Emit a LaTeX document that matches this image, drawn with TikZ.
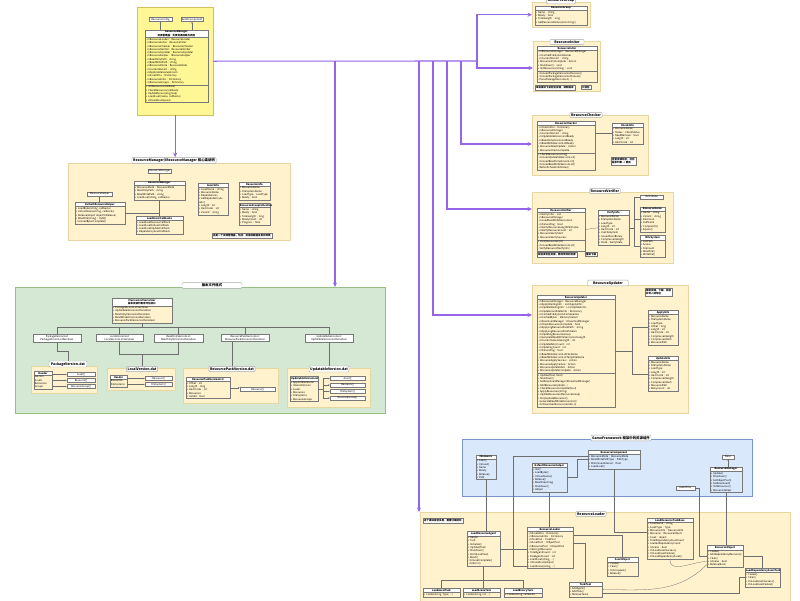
\documentclass[tikz,border=0pt]{standalone}
\usepackage{fontspec}
\setmainfont{Noto Sans CJK SC}
\usetikzlibrary{positioning, arrows.meta, shapes.multipart, calc}

\definecolor{purp}{RGB}{150,100,230}
\definecolor{mgrylw}{RGB}{255,247,150}
\definecolor{mgrline}{RGB}{214,190,90}
\definecolor{beige}{RGB}{255,242,204}
\definecolor{beigeline}{RGB}{232,214,160}
\definecolor{grn}{RGB}{213,232,212}
\definecolor{grnline}{RGB}{150,190,130}
\definecolor{blu}{RGB}{218,232,252}
\definecolor{bluline}{RGB}{120,150,200}
\definecolor{clsline}{RGB}{120,120,120}
\definecolor{linkgray}{RGB}{110,110,110}
\colorlet{bodyfill}{beige}

\newcommand{\umlfont}{\fontsize{2.5}{3.3}\selectfont}
\newcommand{\ttlfont}{\fontsize{3.4}{4.2}\selectfont\bfseries}
\newcommand{\hd}[1]{{\centering\bfseries #1\par}}

\begin{document}
\begin{tikzpicture}[x=1pt, y=-1pt,
    grp/.style={draw=#1, line width=0.4pt, anchor=north west, inner sep=0pt},
    grptitle/.style={draw=gray!70, fill=white, rounded corners=1pt, font=\ttlfont, inner sep=1.2pt},
    cls/.style={rectangle split, rectangle split parts=2, draw=clsline, line width=0.3pt,
        anchor=north west, text width=#1, inner sep=0.8pt, align=left, font=\umlfont,
        rectangle split part fill={white,bodyfill}},
    cls3/.style={cls=#1, rectangle split parts=3, rectangle split part fill={white,bodyfill,bodyfill}},
    tag/.style={draw=clsline, line width=0.3pt, fill=white, font=\umlfont, inner sep=0.8pt, align=center},
    note/.style={draw=clsline, line width=0.3pt, fill=white, font=\umlfont\bfseries, inner sep=1pt, anchor=north west, align=left},
    link/.style={draw=linkgray, line width=0.3pt},
    tip/.style={link, -{Stealth[length=1.8pt, width=1.4pt]}},
    bus/.style={draw=purp, line width=1.1pt},
    busarrow/.style={bus, -{Stealth[length=4.5pt, width=4pt]}}
]
\fill[white] (0,0) rectangle (800,600);
\useasboundingbox (0,0) rectangle (800,600);

% === ResourceManager entry ===
\begin{scope}
\colorlet{bodyfill}{mgrylw}
\node[grp=mgrline, fill=mgrylw, minimum width=76pt, minimum height=108pt] (gTop) at (137,7) {};
\node[tag, minimum width=23pt] (cfg) at (160.5,19.5) {ResourceConfig};
\node[tag, minimum width=22pt] (evt) at (192,19.5) {EventComponent};
\node[cls3=61pt] (mgr) at (145,30) {\hd{ResourceManager\\资源管理器：负责资源加载与调度}
    \nodepart{two}- mResourceLoader : ResourceLoader\\- mResourceIniter : ResourceIniter\\- mResourceChecker : ResourceChecker\\- mResourceVerifier : ResourceVerifier\\- mResourceUpdater : ResourceUpdater\\- mResourceHelper : IResourceHelper\\- mReadOnlyPath : string\\- mReadWritePath : string\\- mResourceMode : ResourceMode\\- mCurrentVariant : string\\- mApplicableGameVersion\\- mAssetInfos : Dictionary\\- mResourceInfos : Dictionary\\- mResourceGroups : Dictionary
    \nodepart{three}+ InitResources(callback)\\+ CheckResources(callback)\\+ UpdateResources(group)\\+ LoadAsset(name, callbacks)\\+ UnloadAsset(asset)};
\draw[tip] (mgr.north -| cfg) -- (cfg.south);
\draw[tip] (mgr.north -| evt) -- (evt.south);
\end{scope}

% === core classes ===
\node[grp=beigeline, fill=beige, minimum width=222pt, minimum height=77pt] (gCore) at (68,163) {};
\node[grptitle, minimum width=68pt] (tCore) at (174,160.5) {ResourceManager/IResourceManager 核心类说明};
\node[tag, minimum width=15pt] (iRes) at (159.5,171) {IResourceManager};
\node[cls=49pt] (cRes) at (134,181) {\hd{ResourceManager}
    \nodepart{two}+ ResourceMode : ResourceMode\\+ ReadOnlyPath : string\\+ ReadWritePath : string\\+ LoadAsset(string, callbacks)};
\node[tag, minimum width=25pt] (iHelp) at (99.5,194) {IResourceHelper};
\node[cls=48pt] (cHelp) at (75,202) {\hd{DefaultResourceHelper}
    \nodepart{two}+ LoadBytes(string, callbacks)\\+ UnloadScene(string, callbacks)\\+ Release(object objectToRelease)\\+ ReadFile(string) : byte[]\\- OnLoadBytesComplete()};
\node[cls=45pt] (cLoadCb) at (136,216) {\hd{LoadAssetCallbacks}
    \nodepart{two}+ LoadAssetSuccessCallback\\+ LoadAssetFailureCallback\\+ LoadAssetUpdateCallback\\+ DependencyAssetCallback};
\node[cls=28pt] (cAsset) at (198,183) {\hd{AssetInfo}
    \nodepart{two}+ AssetName : string\\+ ResourceName\\+ Dependencies\\+ GetDependencyAssets()\\+ Length : int\\+ HashCode : int\\+ Variant : string};
\node[cls=29pt] (cGroup) at (239,182) {\hd{ResourceInfo}
    \nodepart{two}+ ResourceName\\+ FileSystemName\\+ LoadType : LoadType\\+ Ready : bool};
\node[cls=29pt] (cInfo) at (239,203) {\hd{ResourceGroupCollection}
    \nodepart{two}+ Name : string\\+ Ready : bool\\+ TotalLength : long\\+ ReadyCount : int\\+ Progress : float};
\node[note] (nCore) at (212,233) {这是一个资源管理器，包括：资源加载器及其实现类};
\draw[tip] (cRes.north -| iRes) -- (iRes.south);
\draw[tip] (cHelp.north -| iHelp) -- (iHelp.south);
\draw[link] (cRes.south) -- (cRes.south |- cLoadCb.north);
\draw[link] (cHelp.east) -- (cHelp.east -| cRes.south);

% === version files ===
\begin{scope}
\node[grp=grnline, fill=grn, minimum width=370pt, minimum height=126pt] (gInt) at (15,287) {};
\node[grptitle, minimum width=60pt] (tInt) at (212,285.5) {版本文件格式};
\node[cls=58pt] (cVer) at (112,298) {\hd{IVersionListSerializer\\版本资源列表序列化接口}
    \nodepart{two}+ PackageVersionListSerializer\\+ UpdatableVersionListSerializer\\+ ReadOnlyVersionListSerializer\\+ ReadWriteVersionListSerializer\\+ ResourcePackVersionListSerializer};
\node[tag, minimum width=48pt] (iPkg) at (57,338) {PackageVersionList\\PackageVersionListSerializer};
\node[tag, minimum width=47pt] (iLoc) at (119.5,338) {LocalVersionList\\LocalVersionListSerializer};
\node[tag, minimum width=49pt] (iRpk) at (178.5,338) {ReadOnlyVersionList\\ReadOnlyVersionListSerializer};
\node[tag, minimum width=48pt] (iRfl) at (245,338) {ResourcePackVersionList\\ResourcePackVersionListSerializer};
\node[tag, minimum width=48pt] (iUpd) at (329,338) {UpdatableVersionList\\UpdatableVersionListSerializer};
\draw[link] (cVer.south) -- ++(0,4) coordinate (vBus);
\draw[link] (iPkg.north) |- (vBus) -| (iUpd.north);
\foreach \n in {iLoc, iRpk, iRfl}
    \draw[link] (\n.north) -- (\n.north |- vBus);

\node[grp=beigeline, fill=beige, minimum width=66pt, minimum height=27pt] (fPkg) at (31,366) {};
\node[grptitle, minimum width=38pt] (tPkg) at (68,364) {PackageVersion.dat};
\node[cls=16pt] (kPkg) at (34,371) {\hd{Header}
    \nodepart{two}Version\\Assets\\Resources\\Groups};
\node[tag, minimum width=28pt] (pA) at (81,374.5) {Asset[]};
\node[tag, minimum width=28pt] (pB) at (81,380.5) {Resource[]};
\node[tag, minimum width=28pt] (pC) at (81,386.5) {ResourceGroup[]};
\foreach \n in {pA, pB, pC}
    \draw[tip] (\n.west -| kPkg.east) -- (\n.west);

\node[grp=beigeline, fill=beige, minimum width=68pt, minimum height=22pt] (fLoc) at (107,368) {};
\node[grptitle, minimum width=31pt] (tLoc) at (142,369) {LocalVersion.dat};
\node[cls=15pt] (kLoc) at (110,375) {\hd{Header}
    \nodepart{two}Resources\\FileSystems};
\node[tag, minimum width=27pt] (lA) at (158.5,378.5) {Resource[]};
\node[tag, minimum width=27pt] (lB) at (158.5,384.5) {FileSystem[]};
\foreach \n in {lA, lB}
    \draw[tip] (\n.west -| kLoc.east) -- (\n.west);

\node[grp=beigeline, fill=beige, minimum width=95pt, minimum height=35pt] (fRpk) at (183,368) {};
\node[grptitle, minimum width=45pt] (tRpk) at (232,369) {ResourcePackVersion.dat};
\node[cls=42pt] (kRpk) at (186,377) {\hd{ResourcePackVersionList}
    \nodepart{two}+ Offset : int\\+ Length : long\\+ HashCode : int\\+ Resources\\+ IsValid : bool};
\node[tag, minimum width=35pt] (rA) at (257.5,389.5) {Resource[]};
\draw[tip] (kRpk.east) -- (kRpk.east -| rA.west);

\node[grp=beigeline, fill=beige, minimum width=83pt, minimum height=39pt] (fUpd) at (287,368) {};
\node[grptitle, minimum width=36pt] (tUpd) at (329,369) {UpdatableVersion.dat};
\node[cls=26pt] (kUpd) at (290,376) {\hd{UpdatableVersionList}
    \nodepart{two}+ ApplicableVersion\\+ InternalVersion\\+ Assets\\+ Resources\\+ FileSystems\\+ ResourceGroups};
\node[tag, minimum width=35pt] (uA) at (347.5,378.5) {Asset[]};
\node[tag, minimum width=35pt] (uB) at (347.5,385) {Resource[]};
\node[tag, minimum width=35pt] (uC) at (347.5,391.5) {FileSystem[]};
\node[tag, minimum width=35pt] (uD) at (347.5,398) {ResourceGroup[]};
\draw[link] (kUpd.east) -- ++(5,0) coordinate (jUpd);
\draw[tip] (jUpd) |- (uA.west);
\draw[tip] (jUpd) |- (uD.west);
\foreach \n in {uB, uC}
    \draw[tip] (\n.west -| jUpd) -- (\n.west);

\draw[link] (iPkg.south) -- ++(0,9) -| (tPkg.north);
\coordinate (jLoc) at ($(tLoc.north)+(0,-12)$);
\draw[link] (iLoc.south) |- (jLoc) -| (iRpk.south);
\draw[link] (jLoc) -- (tLoc.north);
\draw[link] (tRpk.north) -- (tRpk.north |- iRfl.south);
\draw[link] (iUpd.south) -- (tUpd.north);
\end{scope}

% === right column ===
\node[grp=beigeline, fill=beige, minimum width=58pt, minimum height=25pt] (gA) at (532,2) {};
\node[grptitle, minimum width=26pt] (tA) at (561,1) {ResourceGroup};
\node[cls=50pt] (kA) at (535,6) {\hd{ResourceGroup}
    \nodepart{two}+ Name : string\\+ Ready : bool\\+ TotalLength : long\\+ GetResourceNames(List<string>)};

\node[grp=beigeline, fill=beige, minimum width=67pt, minimum height=50pt] (gB) at (533,41) {};
\node[grptitle, minimum width=34pt] (tB) at (567,42) {ResourceIniter};
\node[cls3=58pt] (kB) at (537,46) {\hd{ResourceIniter}
    \nodepart{two}- mResourceManager : ResourceManager\\- mCachedFileSystemNames\\- mCurrentVariant : string\\+ ResourceInitComplete : Action\\+ Shutdown() : void\\+ InitResources(string) : void
    \nodepart{three}- OnLoadPackageVersionListSuccess()\\- OnLoadPackageVersionListFailure()\\- ParsePackageVersionList(...)};
\node[note] (nB1) at (535,85) {单机模式下初始化资源，读取版本};
\node[note] (nB2) at (581,85) {只读区};

\node[grp=beigeline, fill=beige, minimum width=116pt, minimum height=60pt] (gC) at (532,115) {};
\node[grptitle, minimum width=23pt] (tC) at (586,115) {ResourceChecker};
\node[cls3=56pt] (kC) at (537,121) {\hd{ResourceChecker}
    \nodepart{two}- mCheckInfos : Dictionary\\- mResourceManager\\- mCurrentVariant : string\\- mUpdatableVersionListReady\\- mReadOnlyVersionListReady\\- mReadWriteVersionListReady\\+ ResourceNeedUpdate : Action\\+ ResourceCheckComplete
    \nodepart{three}+ CheckResources(string)\\- OnLoadUpdatableVersionList()\\- OnLoadReadOnlyVersionList()\\- OnLoadReadWriteVersionList()\\- RefreshCheckInfoStatus()};
\node[cls=29pt] (kC2) at (612,123) {\hd{CheckInfo}
    \nodepart{two}+ ResourceName\\+ Status : CheckStatus\\+ NeedRemove : bool\\+ Length : int\\+ HashCode : int};
\node[note] (nC) at (611,157) {检查资源状态，对比\\版本列表 → 更新};
\draw[link] (kC2.west) -- (kC2.west -| kC.east);

\node[grp=beigeline, fill=beige, minimum width=141pt, minimum height=71pt] (gD) at (532,192) {};
\node[grptitle, minimum width=26pt] (tD) at (605,191) {ResourceVerifier};
\node[cls3=46pt] (kD1) at (537,208) {\hd{ResourceVerifier}
    \nodepart{two}- mVerifyInfos : List\\- mResourceManager\\- mLoadReadWriteVersionList\\- mFailureFlag : bool\\- mVerifyResourceLengthPerFrame\\- mVerifyResourceCount : int\\+ ResourceVerifyStart\\+ ResourceVerifySuccess
    \nodepart{three}+ VerifyResources(int)\\- OnLoadReadWriteVersionList()\\- VerifyResource(VerifyInfo)};
\node[cls=29pt] (kD2) at (598,210) {\hd{VerifyInfo}
    \nodepart{two}+ ResourceName\\+ FileSystemName\\+ LoadType\\+ Length : int\\+ HashCode : int\\+ UseFileSystem\\+ IsLoadFromBinary\\+ CompressedLength\\+ State : VerifyState};
\node[tag, minimum width=23pt] (kD3) at (651.5,197) {VerifyState};
\node[cls=23pt] (kD4) at (640,207) {\hd{ResourceName}
    \nodepart{two}+ Name : string\\+ Variant : string\\+ Extension\\+ FullName\\+ CompareTo()\\+ Equals()};
\node[cls=23pt] (kD5) at (640,235) {\hd{IFileSystem}
    \nodepart{two}+ FullPath\\+ Access\\+ FileCount\\+ ReadFile()\\+ WriteFile()};
\node[note] (nD1) at (537,252) {校验读写区资源，移除无效的资源};
\node[note] (nD2) at (585,252) {重新下载};
\draw[link] (kD1.east) -- (kD2.west);
\draw[link] (kD2.east) -- ++(5,0) coordinate (jD);
\draw[link] (kD3.west) -| (jD) |- (kD5.west);
\draw[link] (jD) |- (kD4.west);

\node[grp=beigeline, fill=beige, minimum width=156pt, minimum height=128pt] (gE) at (532,285) {};
\node[grptitle, minimum width=41pt] (tE) at (608,283) {ResourceUpdater};
\node[note] (nE) at (645,288) {更新资源，下载、校验\\并写入读写区};
\node[cls3=76pt] (kE) at (537,295) {\hd{ResourceUpdater}
    \nodepart{two}- mResourceManager : ResourceManager\\- mApplyWaitingInfo : List<ApplyInfo>\\- mUpdateWaitingInfo : List<UpdateInfo>\\- mUpdateCandidateInfo : Dictionary\\- mCachedFileSystemsForGenerate\\- mCachedBytes : MemoryStream\\- mDownloadManager : IDownloadManager\\- mCheckResourcesComplete : bool\\- mApplyingResourcePackPath : string\\- mApplyingResourcePackStream\\- mUpdatingResourceGroup\\- mGenerateReadWriteVersionListLength\\- mCurrentGenerateLength : int\\- mUpdateRetryCount : int\\- mUpdatingCount : int\\- mFailureFlag : bool\\- mReadWriteVersionListFileName\\- mReadWriteVersionListTempFileName\\+ ResourceApplySuccess : Action\\+ ResourceApplyFailure : Action\\+ ResourceUpdateStart : Action\\+ ResourceUpdateComplete : Action
    \nodepart{three}+ Update(float, float)\\+ Shutdown()\\+ SetDownloadManager(IDownloadManager)\\+ AddResourceUpdate(...)\\+ CheckResourceComplete(bool)\\+ ApplyResources(string)\\+ UpdateResources(ResourceGroup)\\+ StopUpdateResources()\\- GenerateReadWriteVersionList()\\- OnDownloadSuccess(sender, e)};
\node[cls=28pt] (kE1) at (648,310) {\hd{ApplyInfo}
    \nodepart{two}+ ResourceName\\+ FileSystemName\\+ LoadType\\+ Offset : long\\+ Length : int\\+ HashCode : int\\+ CompressedLength\\+ CompressedHash\\+ ResourcePath};
\node[cls=28pt] (kE2) at (648,356) {\hd{UpdateInfo}
    \nodepart{two}+ ResourceName\\+ FileSystemName\\+ LoadType\\+ Length : int\\+ HashCode : int\\+ CompressedLength\\+ CompressedHash\\+ ResourcePath\\+ RetryCount : int};
\draw[link] (kE.east) -- ++(17,0) coordinate (jE);
\draw[link] (kE1.west) -| (jE) |- (kE2.west);

% === framework components ===
\begin{scope}
\colorlet{bodyfill}{blu}
\node[grp=bluline, fill=blu, minimum width=290pt, minimum height=57pt] (gFw) at (462,439) {};
\node[grptitle, minimum width=54pt] (tFw) at (621,438) {GameFramework 框架中的资源组件};
\node[cls=18pt] (bRes) at (476,455) {\hd{IResource}
    \nodepart{two}+ Load()\\+ Unload()\\+ Name\\+ Ready\\+ Release()\\+ Path};
\node[cls=33pt] (bHelp) at (532,463) {\hd{DefaultResourceHelper}
    \nodepart{two}+ Init()\\+ LoadBytes()\\+ UnloadScene()\\+ Release()\\+ ReadFile(string)\\+ Shutdown()\\+ Helper};
\node[cls=50pt] (bComp) at (588,450) {\hd{ResourceComponent}
    \nodepart{two}+ ResourceMode : ResourceMode\\+ ReadWritePathType : PathType\\+ MinUnloadInterval : float\\+ LoadAsset()};
\node[tag, minimum width=12pt] (bBase) at (728,457) {Base};
\node[cls=30pt] (bMgr) at (710,467) {\hd{ResourceManager}
    \nodepart{two}+ Update()\\+ Shutdown()\\+ SetObjectPool()\\+ SetDownload()\\+ InitResources()\\+ ResourceHelper};
\node[tag, minimum width=19pt] (bEvt) at (685.5,488) {EventPool};
\draw[tip] (bMgr.north -| bBase) -- (bBase.south);
\draw[link] (bHelp.east) -- ++(10,0) |- (bComp.west);
\end{scope}

% === ResourceLoader ===
\node[grp=beigeline, fill=beige, minimum width=370pt, minimum height=95pt] (gLd) at (420,512) {};
\node[grptitle, minimum width=30pt] (tLd) at (591,514) {ResourceLoader};
\node[note] (nLd) at (423,518) {这个模块有很多类，需要仔细研究};
\node[cls=31pt] (c1) at (467,531) {\hd{LoadResourceAgent}
    \nodepart{two}+ Helper\\+ Task\\+ Initialize()\\+ Update(float)\\+ Shutdown()\\+ Start(LoadTask)\\+ Reset()\\- OnAssetComplete()\\- OnError()};
\node[cls=44pt] (c2) at (527,527) {\hd{ResourceLoader}
    \nodepart{two}- mAssetInfos : Dictionary\\- mResourceInfos : Dictionary\\- mTaskPool : TaskPool\\- mAssetPool : IObjectPool\\- mResourcePool : IObjectPool\\- mDecryptResource\\+ TotalAgentCount : int\\+ FreeAgentCount : int\\+ LoadAsset(string, ...)\\+ UnloadAsset(object)\\+ LoadScene(string, ...)};
\node[cls=29pt] (c3) at (607,557) {\hd{AssetObject}
    \nodepart{two}+ Create()\\+ Clear()\\+ OnUnspawn()\\+ Release()};
\node[cls=44pt] (c4) at (647,518) {\hd{LoadResourceTaskBase}
    \nodepart{two}+ AssetName : string\\+ AssetType : Type\\+ ResourceInfo : ResourceInfo\\+ Resource : ResourceObject\\+ Asset : object\\+ TotalDependencyAssetCount\\+ LoadedDependencyCount\\+ IsScene : bool\\+ OnLoadAssetSuccess()\\+ OnLoadAssetFailure()\\+ OnLoadDependencyAsset()};
\node[cls=34pt] (c5) at (707,545) {\hd{ResourceObject}
    \nodepart{two}+ Create()\\+ AddDependencyResource()\\+ Clear()\\+ IsScene : bool\\+ Release(bool)};
\node[cls=33pt] (c6) at (745,568) {\hd{LoadDependencyAssetTask}
    \nodepart{two}+ Create()\\+ Clear()\\+ OnLoadAssetSuccess()\\+ OnLoadAssetFailure()};
\node[cls=31pt] (c7) at (569,582) {\hd{TaskPool}
    \nodepart{two}+ AddAgent()\\+ AddTask()\\+ RemoveTask()};
\node[cls=35pt] (d1) at (423,588) {\hd{LoadAssetTask}
    \nodepart{two}+ Create(string, Type, ...)};
\node[cls=35pt] (d2) at (463,588) {\hd{LoadSceneTask}
    \nodepart{two}+ Create(string, int, ...)};
\node[cls=36pt] (d3) at (504,588) {\hd{LoadBinaryTask}
    \nodepart{two}+ Create(string, callbacks)};
\draw[link] (c1.south) -- ++(0,14) coordinate (jC1);
\draw[link] (d1.north) |- (jC1) -| (d3.north);
\draw[link] (jC1) -- (jC1 |- d2.north);
\draw[link] (c1.east) -- (c1.east -| c2.west);
\draw[link] ([yshift=-8pt]c2.north east) -| (c3.north);
\draw[link] ([yshift=-16pt]c2.north east) -| (c7.north);
\draw[link] (c7.east) to[out=0, in=225] ([yshift=3pt]c5.south west);
\draw[link] ([yshift=4pt]c7.south east) -| ([xshift=-6pt]c6.west) -- (c6.west);
\draw[link] (c5.east) -| (c6.north);
\draw[link] (c4.south) to[out=-90, in=180] ([yshift=6pt]c5.south west);

% framework -> loader links
\draw[link] (bRes.south) -- (bRes.south |- c1.north);
\draw[link] (bHelp.south) -- (bHelp.south |- c2.north);
\draw[link] ([yshift=-6pt]bComp.north west) -| ([xshift=-14pt,yshift=3pt]c2.south west) -- ([yshift=3pt]c2.south west);
\draw[link] (bComp.south) |- ([yshift=-14pt]c4.north west);
\draw[link] (bEvt.east) -| ([xshift=-8pt]c5.west) -- (c5.west);
\draw[link] (bMgr.south) -- (bMgr.south |- c5.north);

% === purple dependency bus ===
\coordinate (j1) at (477,61);
\coordinate (j2) at (461,61);
\coordinate (j3) at (447,61);
\coordinate (j4) at (433,61);
\coordinate (j5) at (419,61);
\coordinate (j6) at (335,61);
\draw[bus] (gTop.east) -- (j1);
\draw[busarrow] (j1) |- (gA.west);
\draw[busarrow] (j1) |- ([yshift=-27pt]gB.north west);
\draw[busarrow] (j2) |- ([yshift=-29pt]gC.north west);
\draw[busarrow] (j3) |- ([yshift=-17pt]gD.north west);
\draw[busarrow] (j4) |- ([yshift=-30pt]gE.north west);
\draw[busarrow] (j5) -- (j5 |- gLd.north);
\draw[busarrow] (j6) -- (j6 |- gInt.north);
\draw[busarrow] (gTop.south) -- (gTop.south |- tCore.north);

\end{tikzpicture}
\end{document}
